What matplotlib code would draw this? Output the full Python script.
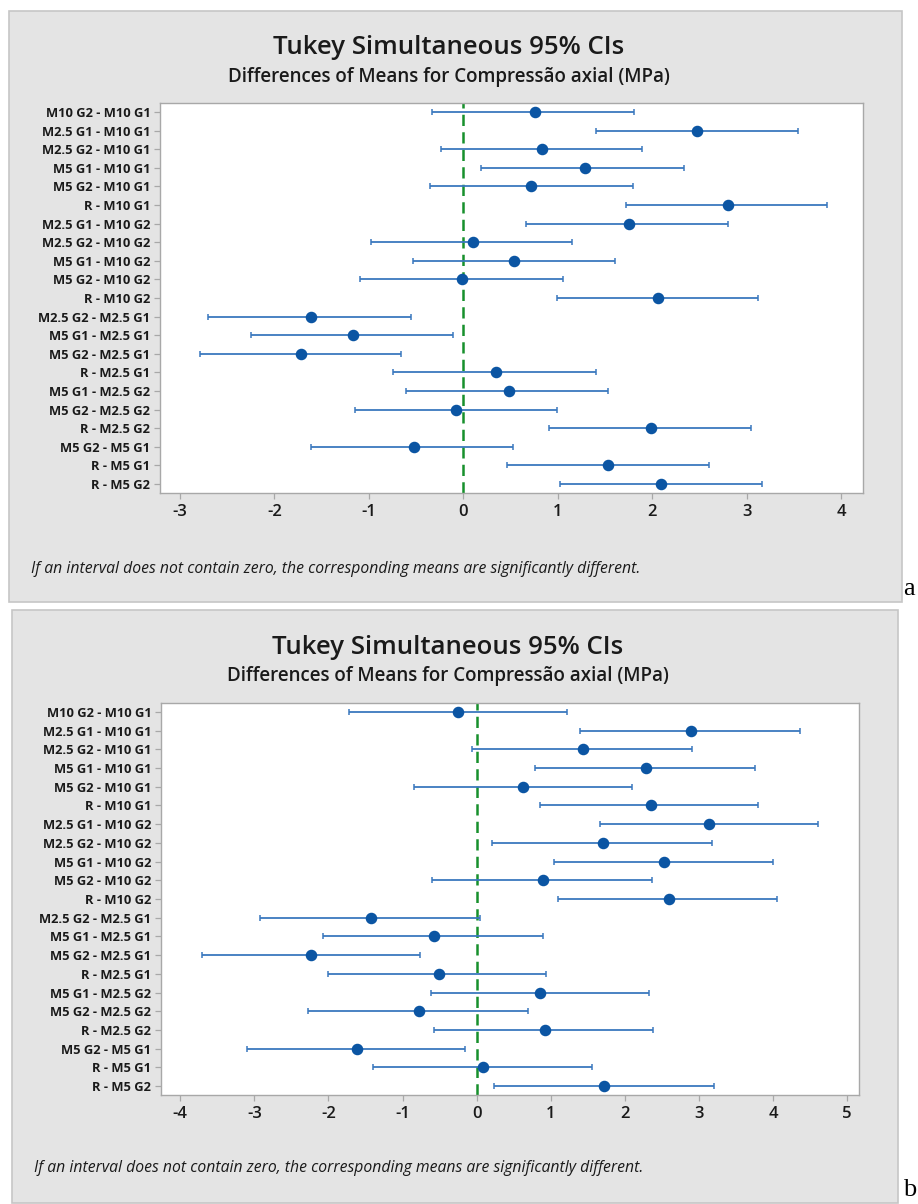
import numpy as np
import matplotlib.pyplot as plt
from matplotlib.patches import Rectangle

# Comparaciones (mismo orden en ambos paneles)
comparaciones = ["M10 G2 - M10 G1", "M2.5 G1 - M10 G1", "M2.5 G2 - M10 G1",
                 "M5 G1 - M10 G1", "M5 G2 - M10 G1", "R - M10 G1",
                 "M2.5 G1 - M10 G2", "M2.5 G2 - M10 G2", "M5 G1 - M10 G2",
                 "M5 G2 - M10 G2", "R - M10 G2", "M2.5 G2 - M2.5 G1",
                 "M5 G1 - M2.5 G1", "M5 G2 - M2.5 G1", "R - M2.5 G1",
                 "M5 G1 - M2.5 G2", "M5 G2 - M2.5 G2", "R - M2.5 G2",
                 "M5 G2 - M5 G1", "R - M5 G1", "R - M5 G2"]

# Panel a
media_a = [0.76, 2.47, 0.83, 1.29, 0.72, 2.80, 1.75, 0.10, 0.54, -0.01, 2.06,
           -1.61, -1.17, -1.72, 0.35, 0.48, -0.08, 1.99, -0.52, 1.53, 2.09]
inf_a = [-0.33, 1.40, -0.24, 0.19, -0.35, 1.72, 0.66, -0.98, -0.53, -1.09, 0.99,
         -2.70, -2.25, -2.79, -0.74, -0.61, -1.15, 0.91, -1.61, 0.46, 1.02]
sup_a = [1.81, 3.54, 1.89, 2.34, 1.80, 3.85, 2.80, 1.15, 1.61, 1.05, 3.12,
         -0.55, -0.11, -0.66, 1.40, 1.53, 0.99, 3.04, 0.53, 2.60, 3.16]
ticks_a = [-3, -2, -1, 0, 1, 2, 3, 4]

# Panel b
media_b = [-0.25, 2.89, 1.43, 2.28, 0.62, 2.35, 3.14, 1.70, 2.53, 0.90, 2.59,
           -1.43, -0.57, -2.23, -0.51, 0.85, -0.78, 0.92, -1.61, 0.09, 1.72]
inf_b = [-1.72, 1.39, -0.06, 0.79, -0.85, 0.86, 1.66, 0.21, 1.04, -0.60, 1.10,
         -2.92, -2.07, -3.70, -2.01, -0.61, -2.27, -0.58, -3.10, -1.40, 0.23]
sup_b = [1.22, 4.36, 2.90, 3.75, 2.10, 3.80, 4.61, 3.17, 4.00, 2.36, 4.06,
         0.04, 0.90, -0.77, 0.94, 2.33, 0.69, 2.38, -0.16, 1.56, 3.20]
ticks_b = [-4, -3, -2, -1, 0, 1, 2, 3, 4, 5]

W, H = 918, 1204
AZUL = "#0B55A3"
LINEA = "#3A78BE"
GRIS = "#E4E4E4"
BORDE = "#C6C6C6"
TXT = "#1A1A1A"
FUENTE = ["Open Sans", "DejaVu Sans"]


def fx(x):
    return x / W


def fy(y):
    return 1 - y / H


def panel(fig, caja, area, media, inf, sup, ticks, xlim, letra):
    x0, y0, x1, y1 = caja
    fig.patches.append(Rectangle((fx(x0), fy(y1)), fx(x1 - x0), (y1 - y0) / H,
                                 transform=fig.transFigure, facecolor=GRIS,
                                 edgecolor=BORDE, linewidth=1.2, zorder=-5))
    cx = (x0 + x1) / 2
    fig.text(fx(cx - 7), fy(y0 + 37), "Tukey Simultaneous 95% CIs", ha="center",
             va="center", fontsize=18.5, fontweight="semibold", color=TXT, family=FUENTE)
    fig.text(fx(cx - 7), fy(y0 + 66), "Differences of Means for Compressão axial (MPa)",
             ha="center", va="center", fontsize=13.5, fontweight="semibold",
             color=TXT, family=FUENTE)
    fig.text(fx(x0 + 22), fy(y0 + 558),
             "If an interval does not contain zero, the corresponding means are significantly different.",
             ha="left", va="center", fontsize=11.3, style="italic", color=TXT, family=FUENTE)
    fig.text(fx(903), fy(y1 - 7), letra, ha="left", va="baseline", fontsize=19,
             family="Liberation Serif", color="black")

    a0, b0, a1, b1 = area
    ax = fig.add_axes([fx(a0), fy(b1), fx(a1 - a0), (b1 - b0) / H])
    ax.set_facecolor("white")
    media = np.array(media)
    y = np.arange(1, len(media) + 1)
    err = [media - np.array(inf), np.array(sup) - media]
    ax.errorbar(media, y, xerr=err, fmt="o", color=AZUL, ecolor=LINEA,
                elinewidth=1.3, capsize=2.5, capthick=1.1, markersize=7.3, zorder=3)
    ax.axvline(0, color="#17902C", linestyle=(0, (4.5, 2.5)), linewidth=1.8, zorder=2)
    ax.set_xlim(*xlim)
    ax.set_ylim(len(media) + 0.48, 0.52)
    ax.set_yticks(y)
    ax.set_yticklabels(comparaciones, fontsize=9.3, fontweight="bold", color=TXT,
                       family=FUENTE)
    ax.set_xticks(ticks)
    ax.set_xticklabels([str(t) for t in ticks], fontsize=12, fontweight="semibold",
                       color=TXT, family=FUENTE)
    ax.tick_params(axis="both", color="#A8A8A8", length=4, width=0.9, pad=3)
    ax.tick_params(axis="x", pad=4)
    for s in ax.spines.values():
        s.set_color("#A8A8A8")
        s.set_linewidth(1.0)
    return ax


fig = plt.figure(figsize=(W / 100, H / 100), dpi=100)
fig.patch.set_facecolor("white")

panel(fig, (9, 11, 902, 602), (160, 103, 863, 493), media_a, inf_a, sup_a,
      ticks_a, (-3.21, 4.23), "a")
panel(fig, (12, 610, 898, 1203), (161, 703, 859, 1095), media_b, inf_b, sup_b,
      ticks_b, (-4.26, 5.16), "b")

fig.savefig("out.png", dpi=100)
